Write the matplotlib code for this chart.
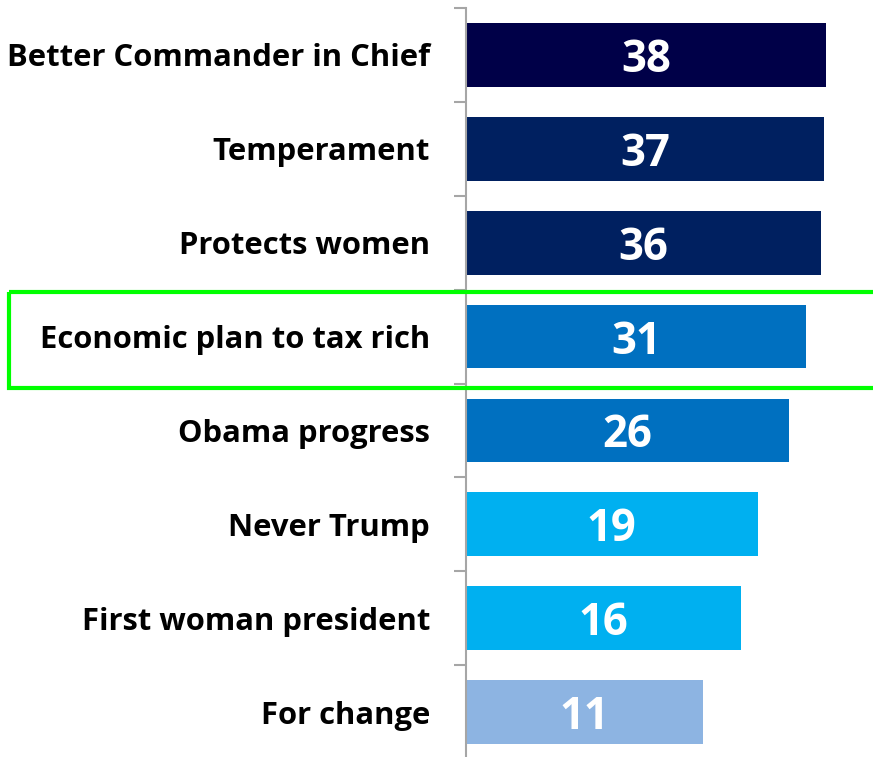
import matplotlib
matplotlib.use("Agg")
import matplotlib.pyplot as plt
from matplotlib.patches import Rectangle
from matplotlib.transforms import blended_transform_factory
from matplotlib.ticker import FixedLocator, NullFormatter, FixedFormatter, NullLocator

categories = ["Better Commander in Chief", "Temperament", "Protects women",
              "Economic plan to tax rich", "Obama progress", "Never Trump",
              "First woman president", "For change"]
values = [38, 37, 36, 31, 26, 19, 16, 11]
colors = ["#000048", "#002060", "#002060", "#0070C0", "#0070C0",
          "#00B0F0", "#00B0F0", "#8DB4E2"]
highlight = "Economic plan to tax rich"

W, H = 873, 757
fig = plt.figure(figsize=(W / 100, H / 100), dpi=100)
ax = fig.add_axes([466 / W, -2 / H, (W - 466) / W, 751 / H])

ypos = list(range(len(categories)))
ax.set_xscale("log")
ax.barh(ypos, values, height=0.68, color=colors)
ax.set_xlim(1, 61)
ax.set_ylim(len(categories) - 0.5, -0.5)

for y, v in zip(ypos, values):
    ax.text(v ** 0.5, y, str(v), ha="center", va="center_baseline",
            color="white", fontsize=31.5, fontweight="bold", family="Open Sans")

ax.xaxis.set_major_locator(NullLocator())
ax.xaxis.set_minor_locator(NullLocator())
for s in ["top", "right", "bottom"]:
    ax.spines[s].set_visible(False)
ax.spines["left"].set_color("#A6A6A6")
ax.spines["left"].set_linewidth(1.5)

bounds = [i - 0.5 for i in range(len(categories) + 1)]
ax.yaxis.set_major_locator(FixedLocator(bounds))
ax.yaxis.set_major_formatter(NullFormatter())
ax.yaxis.set_minor_locator(FixedLocator(ypos))
ax.yaxis.set_minor_formatter(FixedFormatter(categories))
ax.tick_params(axis="y", which="major", length=9, width=1.5, color="#A6A6A6", direction="out")
ax.tick_params(axis="y", which="minor", length=0, pad=26, labelsize=22.3)
for lbl in ax.get_yticklabels(minor=True):
    lbl.set_fontweight("bold")
    lbl.set_family("Open Sans")

hi = categories.index(highlight)
tr = blended_transform_factory(fig.transFigure, ax.transData)
rect = Rectangle((9 / W, hi - 0.48), 1.0, 1.03, transform=tr, fill=False,
                 edgecolor="#00FF00", linewidth=3, clip_on=False)
fig.patches.append(rect)

fig.savefig("out.png", dpi=100)
